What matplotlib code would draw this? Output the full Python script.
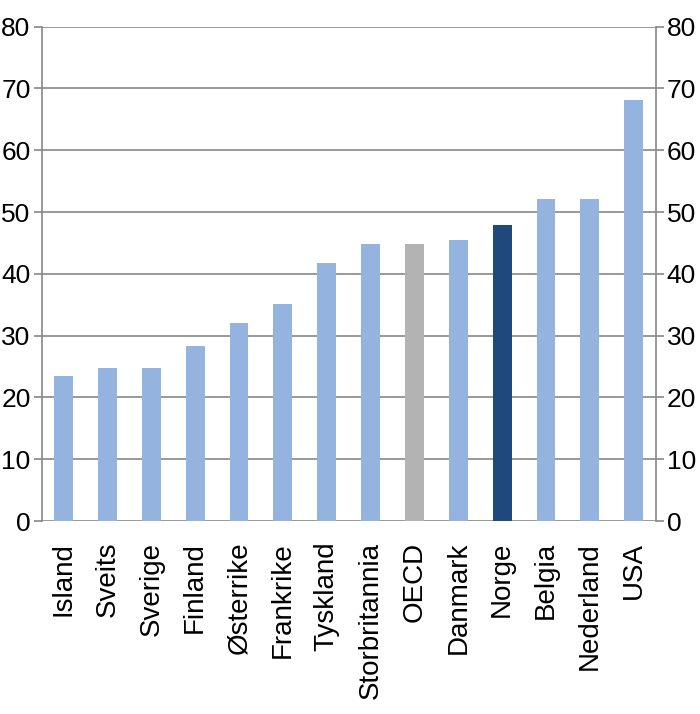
import matplotlib.pyplot as plt
import numpy as np

plt.rcParams['font.family'] = ['Liberation Sans', 'DejaVu Sans']

countries = ['Island', 'Sveits', 'Sverige', 'Finland', 'Østerrike', 'Frankrike',
             'Tyskland', 'Storbritannia', 'OECD', 'Danmark', 'Norge', 'Belgia',
             'Nederland', 'USA']
values = [23.5, 24.7, 24.7, 28.3, 32.0, 35.1, 41.8, 44.9, 44.9, 45.5, 47.9,
          52.1, 52.1, 68.1]

light = '#95b3df'
colors = [light] * len(countries)
colors[countries.index('OECD')] = '#b3b3b3'
colors[countries.index('Norge')] = '#1f497d'

fig = plt.figure(figsize=(7.0, 7.14), dpi=100)
ax = fig.add_axes([0.0596, 0.2703, 0.8771, 0.6923])

x = np.arange(len(countries))
ax.bar(x, values, width=0.43, color=colors, zorder=3)

ax.set_xlim(-0.5, len(countries) - 0.5)
ax.set_ylim(0, 80)
ax.set_yticks(range(0, 81, 10))
ax.yaxis.grid(True, color='#888888', linewidth=1.2, zorder=1)
ax.set_axisbelow(True)

for s in ['top', 'bottom']:
    ax.spines[s].set_visible(False)
for s in ['left', 'right']:
    ax.spines[s].set_color('#888888')
    ax.spines[s].set_linewidth(1.2)

ax.set_xticks(x)
ax.set_xticklabels(countries, rotation=90, va='top', ha='center')
ax.tick_params(axis='x', length=0, pad=15, labelsize=20)
ax.tick_params(axis='y', which='both', direction='out', length=6, width=1.2,
               color='#888888', labelsize=19, pad=2,
               left=True, right=True, labelleft=True, labelright=True)

fig.savefig('out.png', dpi=100, facecolor='white')
